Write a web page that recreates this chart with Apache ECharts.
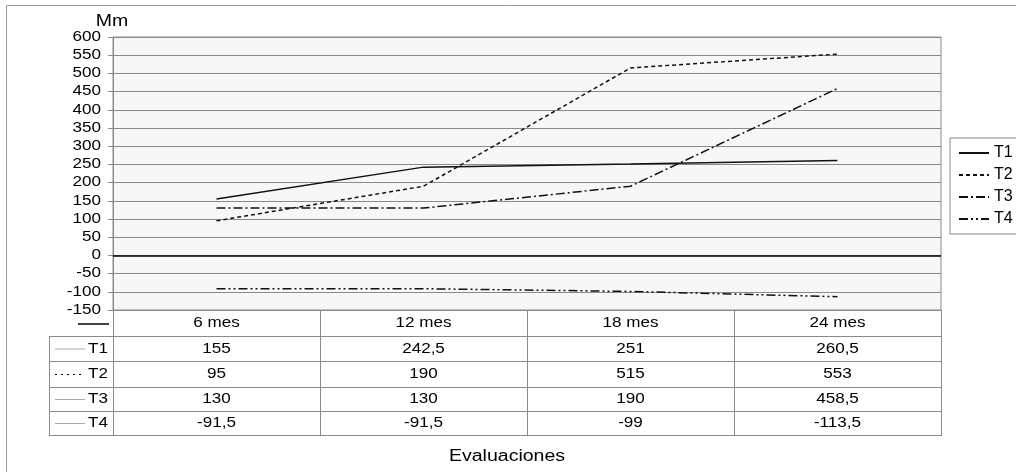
<!DOCTYPE html>
<html><head><meta charset="utf-8">
<script src="https://cdn.jsdelivr.net/npm/echarts@6/dist/echarts.min.js"></script>
<style>html,body{margin:0;padding:0;background:#fff}#c{width:1016px;height:472px}</style>
</head><body><div id="c"></div>
<script>
const categories = ['6 mes', '12 mes', '18 mes', '24 mes'];
const seriesNames = ['T1', 'T2', 'T3', 'T4'];
const T1 = [155, 242.5, 251, 260.5];
const T2 = [95, 190, 515, 553];
const T3 = [130, 130, 190, 458.5];
const T4 = [-91.5, -91.5, -99, -113.5];
const yTickLabels = [-150, -100, -50, 0, 50, 100, 150, 200, 250, 300, 350, 400, 450, 500, 550, 600];
const yTitle = 'Mm';
const xTitle = 'Evaluaciones';

const FONT = '"Liberation Sans", Arial, sans-serif';
const SX = 1.22;
const values = [T1, T2, T3, T4];
const dashes = ['solid', [4, 3], [9, 3, 2, 3], [9, 3, 2, 3, 2, 3]];

const gL = 113, gR = 941, gT = 37, gB = 310;
const colW = (gR - gL) / categories.length;
const rowTops = [336, 361, 387, 411, 435];
const tabL = 49;
const lineC = '#8a8a8a';

const fmt = v => String(v).replace('.', ',');
const txt = (text, x, y, size, align) => ({ type: 'text', x, y, scaleX: SX, silent: true,
  style: { text, font: size + 'px ' + FONT, fill: '#000', textAlign: align || 'center', textVerticalAlign: 'middle' } });

const graphics = [];
graphics.push({ type: 'rect', shape: { x: 6.5, y: 5.5, width: 1030, height: 480 }, style: { fill: null, stroke: '#9a9a9a', lineWidth: 1 }, silent: true, z: -10 });
const hl = (x1, x2, y) => graphics.push({ type: 'line', shape: { x1, y1: y + 0.5, x2, y2: y + 0.5 }, style: { stroke: lineC, lineWidth: 1 }, silent: true });
const vl = (x, y1, y2) => graphics.push({ type: 'line', shape: { x1: x + 0.5, y1, x2: x + 0.5, y2 }, style: { stroke: lineC, lineWidth: 1 }, silent: true });
rowTops.forEach(y => hl(tabL, gR, y));
for (let i = 1; i < categories.length; i++) vl(gL + i * colW, gB, rowTops[4] + 1);
vl(gL, gB, rowTops[4] + 1);
vl(gR, gB, rowTops[4] + 1);
vl(tabL, rowTops[0], rowTops[4] + 1);
graphics.push({ type: 'line', shape: { x1: 78, y1: 324, x2: 109, y2: 324 }, style: { stroke: '#000', lineWidth: 1.5 }, silent: true });
categories.forEach((c, i) => graphics.push(txt(c, gL + (i + 0.5) * colW, (gB + rowTops[0]) / 2 + 0.5, 14)));
seriesNames.forEach((n, r) => {
  const yc = (rowTops[r] + rowTops[r + 1]) / 2 + 0.5;
  graphics.push({ type: 'line', shape: { x1: 55, y1: yc, x2: 85, y2: yc }, style: { stroke: r === 1 ? '#000' : '#aaa', lineWidth: 1, lineDash: r === 1 ? [2, 4] : null }, silent: true });
  graphics.push(txt(n, 108, yc, 14, 'right'));
  values[r].forEach((v, i) => graphics.push(txt(fmt(v), gL + (i + 0.5) * colW, yc, 14)));
});
graphics.push(txt(yTitle, 112, 22, 16));
graphics.push(txt(xTitle, 507, 457, 16));

const chart = echarts.init(document.getElementById('c'), null, { renderer: 'canvas' });
chart.setOption({
  animation: false,
  backgroundColor: '#fff',
  textStyle: { fontFamily: FONT },
  grid: { left: gL, right: 1016 - gR, top: gT, bottom: 472 - gB, show: true, backgroundColor: '#f7f7f7', borderColor: lineC, borderWidth: 1 },
  legend: {
    orient: 'vertical', left: 950, top: 138, padding: [7, 40, 7, 8],
    borderColor: '#8a8a8a', borderWidth: 1, itemWidth: 30, itemHeight: 14, itemGap: 6,
    itemStyle: { opacity: 0 },
    textStyle: { fontSize: 16, color: '#000', fontFamily: FONT },
    data: seriesNames
  },
  xAxis: {
    type: 'category', data: categories, boundaryGap: true,
    axisLine: { show: false }, axisTick: { show: false }, axisLabel: { show: false }, splitLine: { show: false }
  },
  yAxis: {
    type: 'value', min: yTickLabels[0], max: yTickLabels[yTickLabels.length - 1], interval: yTickLabels[1] - yTickLabels[0],
    axisLine: { show: true, lineStyle: { color: lineC } },
    axisTick: { show: true, length: 5, lineStyle: { color: lineC } },
    axisLabel: { show: false },
    splitLine: { lineStyle: { color: lineC, width: 1 } }
  },
  series: seriesNames.map((n, i) => ({
    name: n, type: 'line', data: values[i], symbol: 'none', showSymbol: false, silent: true,
    lineStyle: { color: '#111', width: 1.5, type: dashes[i] },
    itemStyle: { color: '#111' },
    markLine: i === 0 ? { symbol: 'none', silent: true, label: { show: false }, lineStyle: { color: '#000', width: 1.5, type: 'solid' }, data: [{ yAxis: 0 }] } : undefined
  })),
  graphic: graphics
});
// y tick labels placed through the axis scale
const yLabelGraphics = yTickLabels.map(v => txt(String(v), 101, chart.convertToPixel({ yAxisIndex: 0 }, v), 14, 'right'));
chart.setOption({ graphic: graphics.concat(yLabelGraphics) });
</script></body></html>
